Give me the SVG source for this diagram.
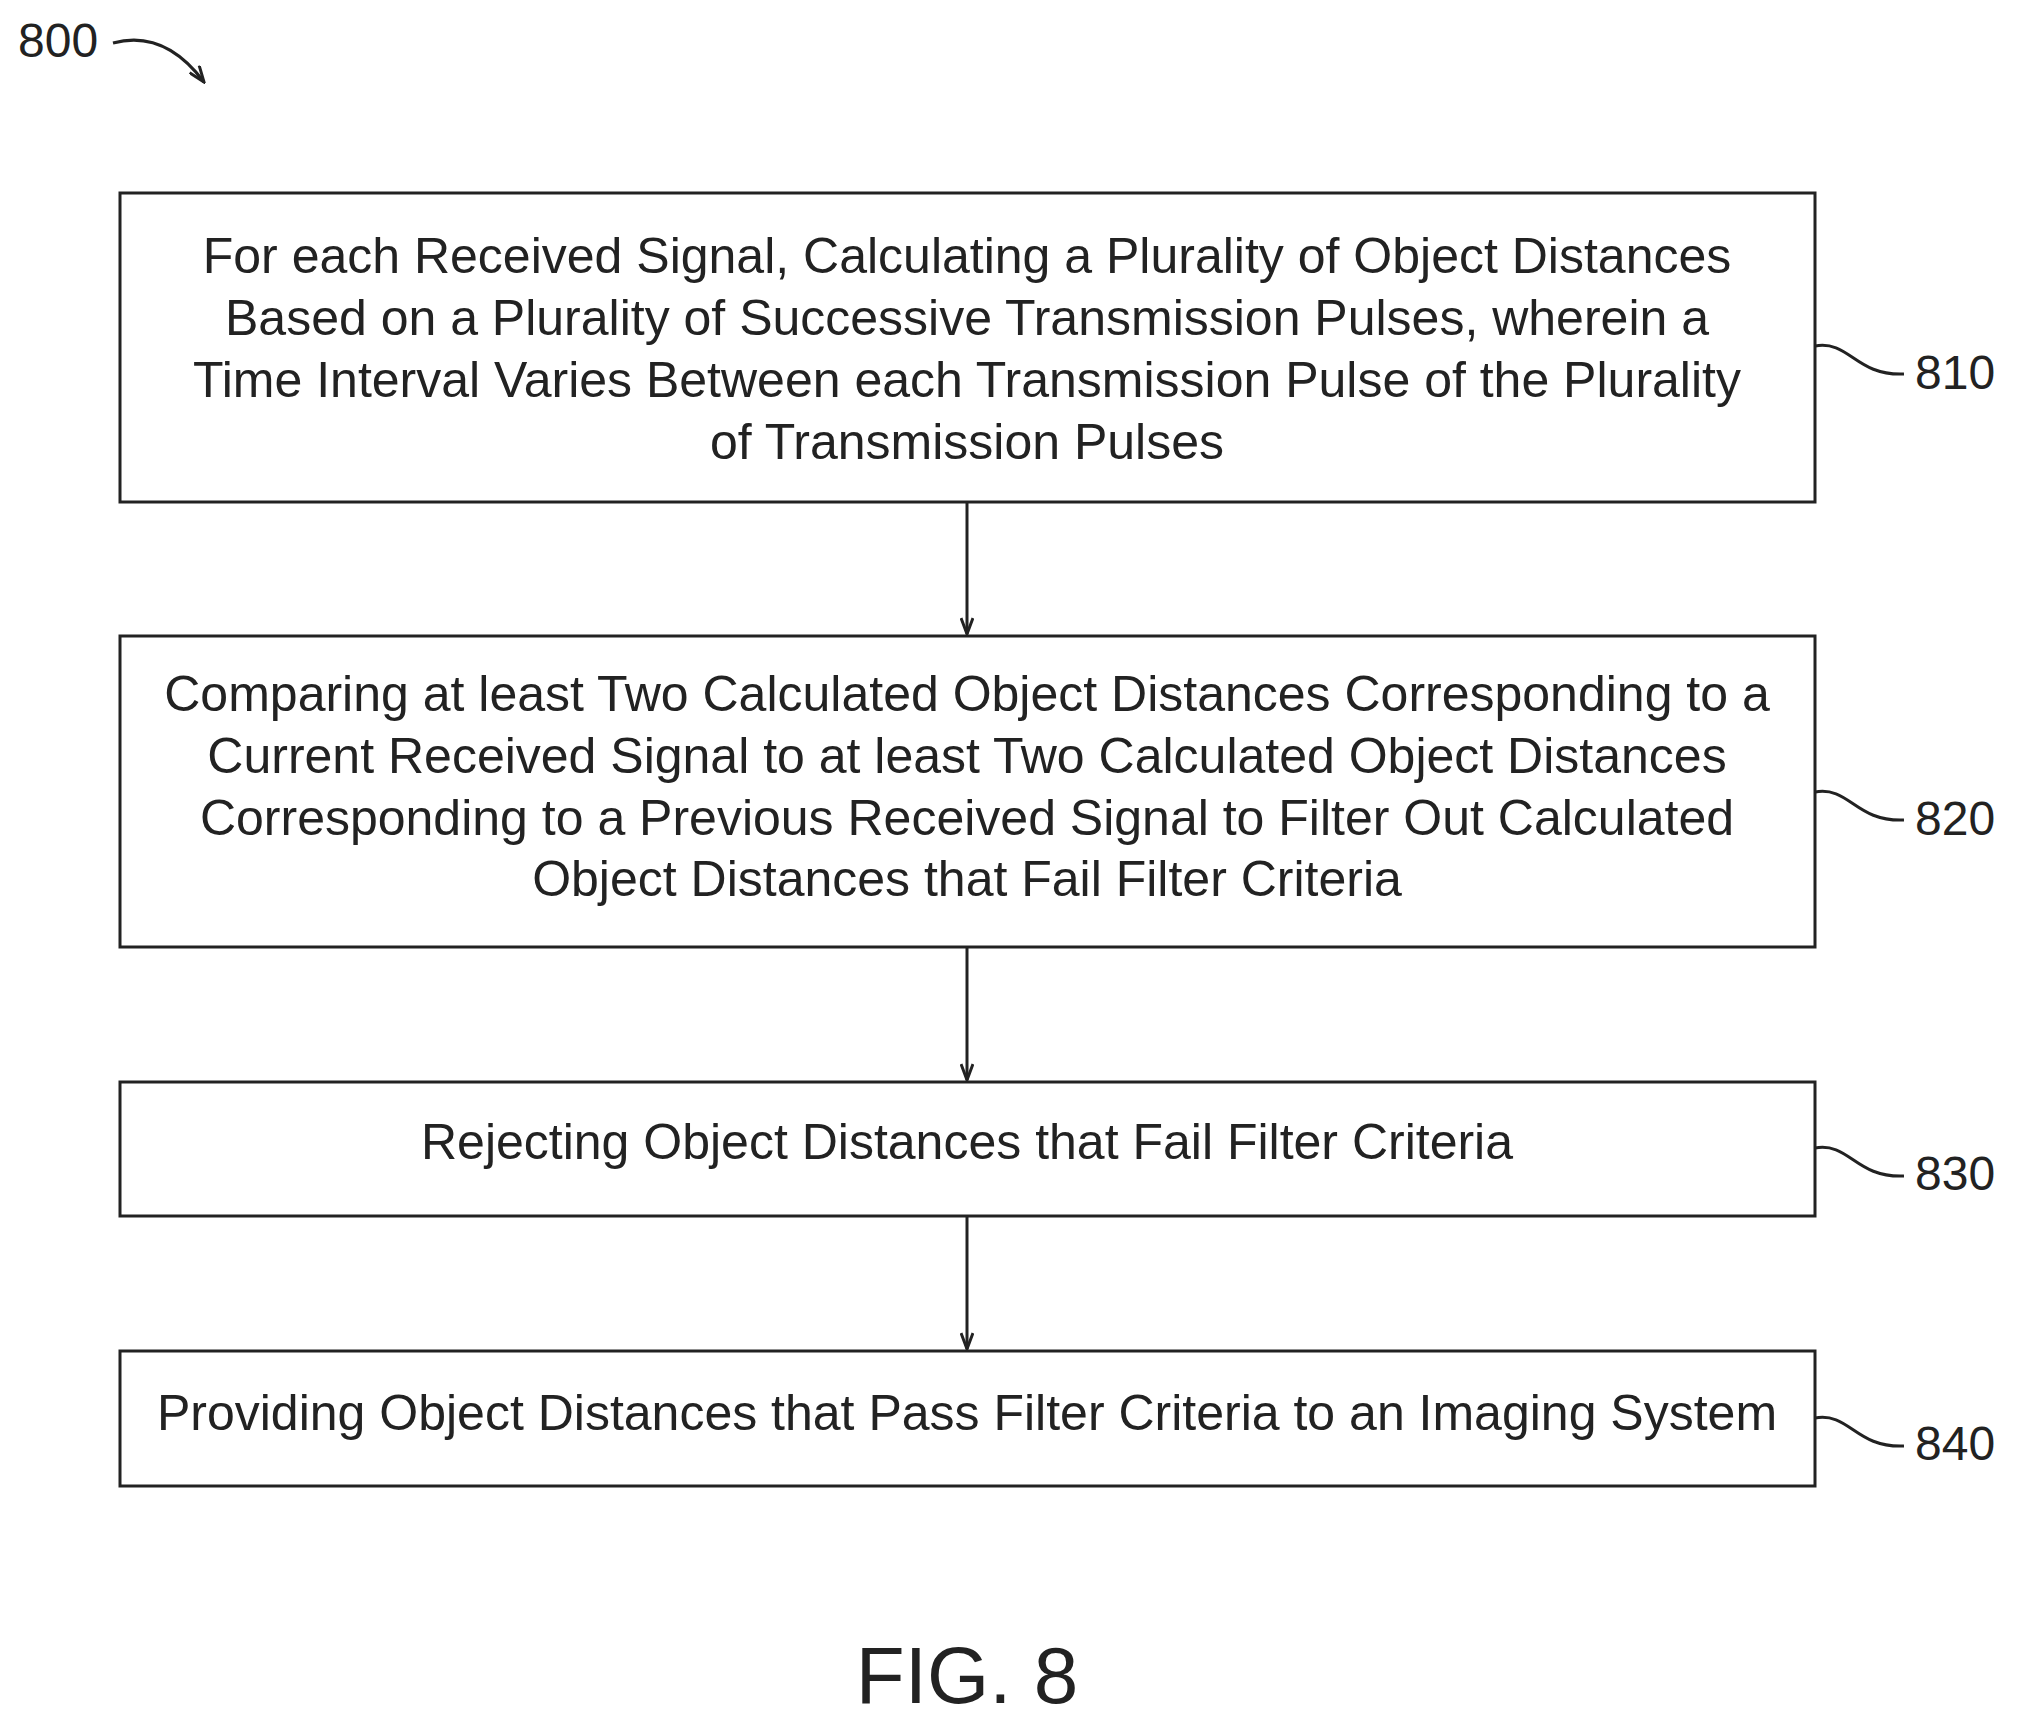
<svg xmlns="http://www.w3.org/2000/svg" width="2020" height="1726" viewBox="0 0 2020 1726">
<style>
.box{fill:#fff;stroke:#222;stroke-width:3}
.t{font-family:"Liberation Sans",Arial,sans-serif;font-size:50px;fill:#222;text-anchor:middle}
.lbl{font-family:"Liberation Sans",Arial,sans-serif;font-size:48px;fill:#222}
.ln{fill:none;stroke:#222;stroke-width:3}
</style>
<defs><marker id="ah" markerWidth="20" markerHeight="14" refX="18" refY="7" orient="auto" markerUnits="userSpaceOnUse" viewBox="0 0 20 14"><path d="M2,1 L18,7 L2,13" fill="none" stroke="#222" stroke-width="3"/></marker></defs>
<rect width="2020" height="1726" fill="#fff"/>
<g id="ref800"><text class="lbl" x="18" y="57">800</text><path class="ln" d="M113,43 C150,33 180,50 204,82" marker-end="url(#ah)"/></g>
<g id="n810"><rect class="box" x="120" y="193" width="1695" height="309"/>
<text class="t" x="967" y="273">For each Received Signal, Calculating a Plurality of Object Distances</text>
<text class="t" x="967" y="335">Based on a Plurality of Successive Transmission Pulses, wherein a</text>
<text class="t" x="967" y="397">Time Interval Varies Between each Transmission Pulse of the Plurality</text>
<text class="t" x="967" y="459">of Transmission Pulses</text>
<path class="ln" d="M1815,346 C1850,340 1855,376 1904,374"/><text class="lbl" x="1915" y="389">810</text></g>
<g id="n820"><rect class="box" x="120" y="636" width="1695" height="311"/>
<text class="t" x="967" y="711">Comparing at least Two Calculated Object Distances Corresponding to a</text>
<text class="t" x="967" y="773">Current Received Signal to at least Two Calculated Object Distances</text>
<text class="t" x="967" y="835">Corresponding to a Previous Received Signal to Filter Out Calculated</text>
<text class="t" x="967" y="896">Object Distances that Fail Filter Criteria</text>
<path class="ln" d="M1815,792 C1850,786 1855,822 1904,820"/><text class="lbl" x="1915" y="835">820</text></g>
<g id="n830"><rect class="box" x="120" y="1082" width="1695" height="134"/>
<text class="t" x="967" y="1159">Rejecting Object Distances that Fail Filter Criteria</text>
<path class="ln" d="M1815,1148 C1850,1142 1855,1178 1904,1176"/><text class="lbl" x="1915" y="1190">830</text></g>
<g id="n840"><rect class="box" x="120" y="1351" width="1695" height="135"/>
<text class="t" x="967" y="1430">Providing Object Distances that Pass Filter Criteria to an Imaging System</text>
<path class="ln" d="M1815,1418 C1850,1412 1855,1448 1904,1446"/><text class="lbl" x="1915" y="1460">840</text></g>
<g id="connectors">
<line class="ln" x1="967" y1="502" x2="967" y2="634" marker-end="url(#ah)"/>
<line class="ln" x1="967" y1="947" x2="967" y2="1080" marker-end="url(#ah)"/>
<line class="ln" x1="967" y1="1216" x2="967" y2="1349" marker-end="url(#ah)"/>
</g>
<text x="967" y="1703" style="font-family:'Liberation Sans',Arial,sans-serif;font-size:80px;fill:#222;text-anchor:middle">FIG. 8</text>
</svg>
